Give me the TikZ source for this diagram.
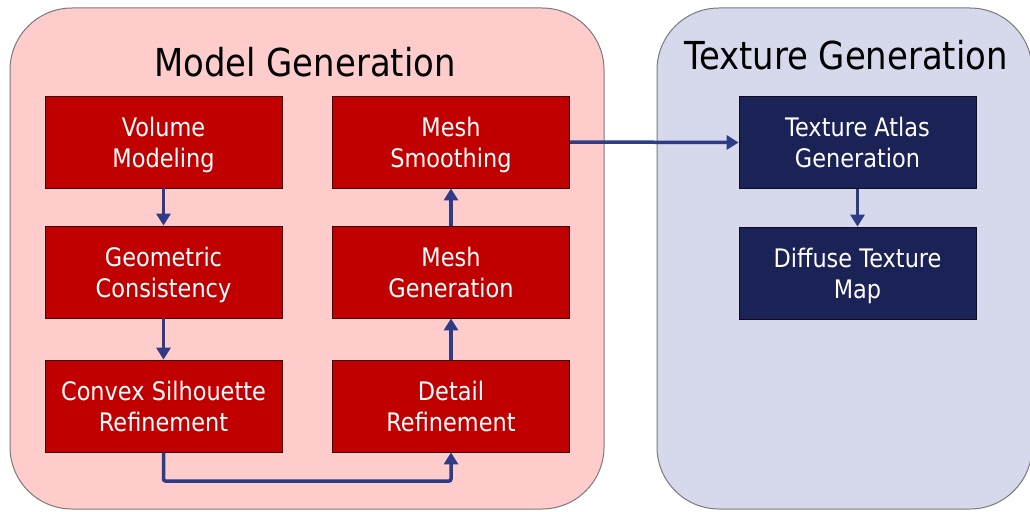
\documentclass[tikz,border=0pt]{standalone}
\usepackage{fontspec}
\setmainfont{DejaVu Sans}[FakeStretch=0.88]
\usetikzlibrary{arrows.meta}
\definecolor{pinkbg}{HTML}{FFCCCC}
\definecolor{lavbg}{HTML}{D6D8EC}
\definecolor{boxred}{HTML}{C00000}
\definecolor{boxnavy}{HTML}{1B2255}
\definecolor{arrowblue}{HTML}{2E3B86}
\definecolor{panelline}{HTML}{7A7A7A}
\tikzset{
  panel/.style={draw=panelline, line width=1pt, rounded corners=62pt},
  redbox/.style={draw=black!70!boxred, line width=0.8pt, fill=boxred, text=white,
    minimum width=237pt, minimum height=92pt, inner sep=0pt, align=center,
    text depth=0pt, font=\fontsize{25.5}{31}\selectfont},
  navybox/.style={redbox, fill=boxnavy, draw=black!60!boxnavy},
  title/.style={font=\fontsize{38.5}{44}\selectfont, text=black, inner sep=0pt, anchor=base},
  flow/.style={draw=arrowblue, line width=3.5pt, -{Triangle[width=14pt,length=12pt]}}
}
\begin{document}
\begin{tikzpicture}[x=1pt,y=-1pt]
\useasboundingbox (0,0) rectangle (1030,511);
\fill[white] (0,0) rectangle (1030,511);
\path[panel, fill=pinkbg] (10,8) rectangle (604,509);
\path[panel, fill=lavbg] (657,8) rectangle (1032,509);
\node[title] (tm) at (305,77) {Model Generation};
\node[title] (tt) at (846,70) {Texture Generation};
\node[redbox] (vol) at (163.5,142) {Volume\\Modeling};
\node[redbox] (geo) at (163.5,272) {Geometric\\Consistency};
\node[redbox] (cvx) at (163.5,406) {Convex Silhouette\\Refinement};
\node[redbox] (msm) at (451,142) {Mesh\\Smoothing};
\node[redbox] (mgn) at (451,272) {Mesh\\Generation};
\node[redbox] (det) at (451,406) {Detail\\Refinement};
\node[navybox] (atl) at (857.5,142.5) {Texture Atlas\\Generation};
\node[navybox] (dif) at (857.5,273) {Diffuse Texture\\Map};
\coordinate (c1) at (163.5,481);
\coordinate (c2) at (451,481);
\draw[flow] (vol.south) -- (geo.north);
\draw[flow] (geo.south) -- (cvx.north);
\draw[flow, rounded corners=2pt] (cvx.south) -- (c1) -- (c2) -- (det.south);
\draw[flow] (det.north) -- (mgn.south);
\draw[flow] (mgn.north) -- (msm.south);
\draw[flow] (msm.east) -- (atl.west);
\draw[flow] (atl.south) -- (dif.north);
\end{tikzpicture}
\end{document}
